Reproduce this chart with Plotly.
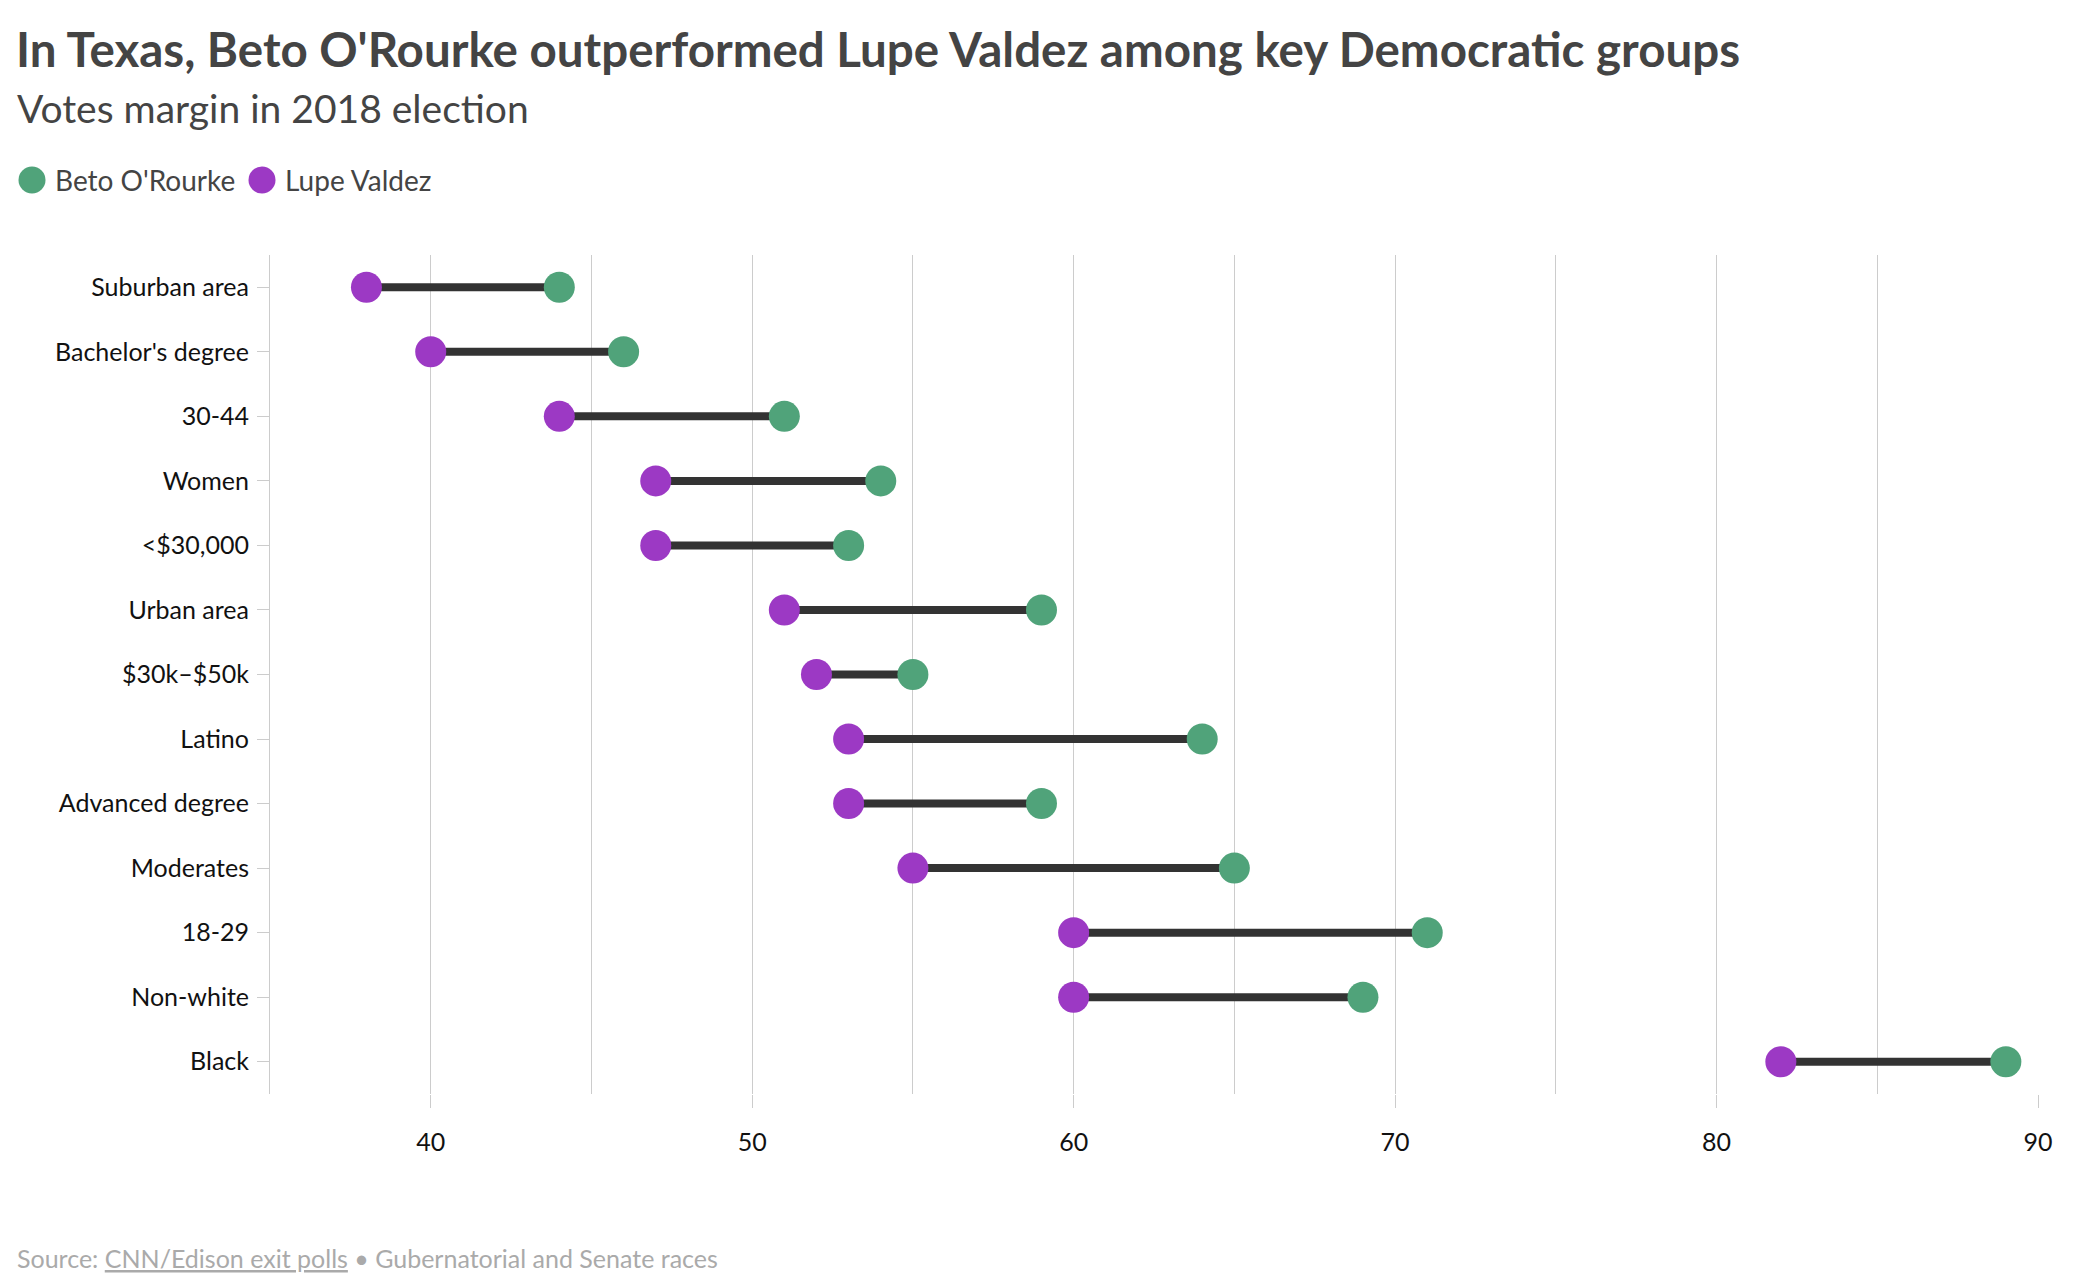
import plotly.graph_objects as go

categories = ["Suburban area", "Bachelor's degree", "30-44", "Women", "<$30,000",
              "Urban area", "$30k\u2013$50k", "Latino", "Advanced degree", "Moderates",
              "18-29", "Non-white", "Black"]
beto = [44, 46, 51, 54, 53, 59, 55, 64, 59, 65, 71, 69, 89]
valdez = [38, 40, 44, 47, 47, 51, 52, 53, 53, 55, 60, 60, 82]
x_ticks = [40, 50, 60, 70, 80, 90]
series_names = ["Beto O'Rourke", "Lupe Valdez"]

GREEN = "#50a37a"
PURPLE = "#9c39c4"
FONT = "Lato"

W, H = 2076, 1286
L, R, T, B = 270, 38, 255, 192
PW, PH = W - L - R, H - T - B


def px(x):
    return (x - L) / PW


def py(y):
    return (H - B - y) / PH


fig = go.Figure()

# connector lines
lx, ly = [], []
for c, a, b in zip(categories, valdez, beto):
    lx += [a, b, None]
    ly += [c, c, None]
fig.add_trace(go.Scatter(x=lx, y=ly, mode="lines", line=dict(color="#333333", width=8),
                         showlegend=False, hoverinfo="skip"))

fig.add_trace(go.Scatter(x=beto, y=categories, mode="markers", name=series_names[0],
                         marker=dict(color=GREEN, size=31, line=dict(width=0)), showlegend=False))
fig.add_trace(go.Scatter(x=valdez, y=categories, mode="markers", name=series_names[1],
                         marker=dict(color=PURPLE, size=31, line=dict(width=0)), showlegend=False))

fig.update_layout(
    width=W, height=H,
    margin=dict(l=L, r=R, t=T, b=B, autoexpand=False),
    paper_bgcolor="white", plot_bgcolor="white",
    font=dict(family=FONT, color="#222222", size=25),
    showlegend=False,
    xaxis=dict(range=[35, 90], tickvals=x_ticks, ticks="outside", ticklen=13,
               tickcolor="#cccccc", tickwidth=1, showgrid=True, gridcolor="#cccccc",
               gridwidth=1, zeroline=False, showline=False,
               minor=dict(dtick=5, tick0=0, showgrid=True, gridcolor="#cccccc", gridwidth=1),
               tickfont=dict(size=25, color="#111111"), ticklabelstandoff=13,
               fixedrange=True),
    yaxis=dict(type="category", categoryorder="array", categoryarray=categories,
               range=[len(categories) - 0.5, -0.5], showline=True, linecolor="#cccccc",
               linewidth=1, ticks="outside", ticklen=12, tickcolor="#cccccc",
               showgrid=False, zeroline=False, tickfont=dict(size=25, color="#111111"),
               ticklabelstandoff=3, fixedrange=True),
    hovermode="closest",
)

# legend (circles + labels)
legend_items = [(series_names[0], GREEN, 32, 53), (series_names[1], PURPLE, 262, 283)]
for name, color, cx, tx in legend_items:
    fig.add_shape(type="circle", xref="paper", yref="paper", xsizemode="pixel", ysizemode="pixel",
                  xanchor=px(cx), yanchor=py(180), x0=-13.5, x1=13.5, y0=-13.5, y1=13.5,
                  fillcolor=color, line=dict(width=0), layer="above")
    fig.add_annotation(text=name, xref="paper", yref="paper", x=px(tx), y=py(180),
                       xanchor="left", yanchor="middle", showarrow=False,
                       font=dict(family=FONT, size=28, color="#444444"))

fig.add_annotation(text="<b>In Texas, Beto O'Rourke outperformed Lupe Valdez among key Democratic groups</b>",
                   xref="paper", yref="paper", x=px(14), y=py(49), xanchor="left", yanchor="middle",
                   showarrow=False, font=dict(family=FONT, size=47.5, color="#444444"))
fig.add_annotation(text="Votes margin in 2018 election",
                   xref="paper", yref="paper", x=px(15), y=py(108), xanchor="left", yanchor="middle",
                   showarrow=False, font=dict(family=FONT, size=39, color="#444444"))
fig.add_annotation(text="Source: <span style='text-decoration:underline'>CNN/Edison exit polls</span> \u2022 Gubernatorial and Senate races",
                   xref="paper", yref="paper", x=px(15), y=py(1258), xanchor="left", yanchor="middle",
                   showarrow=False, font=dict(family=FONT, size=25, color="#aaaaaa"))

fig.write_html("out.html", config={"displayModeBar": False},
               post_script="document.body.style.margin='0';")
